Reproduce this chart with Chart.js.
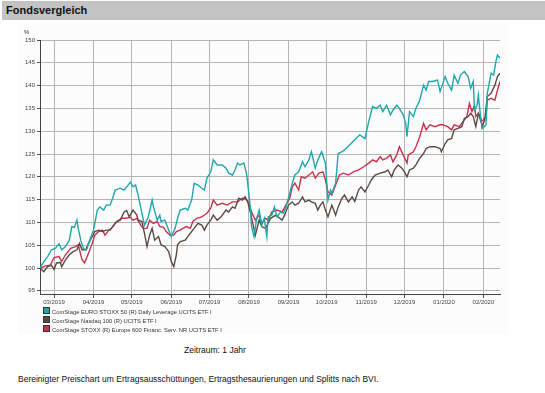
<!DOCTYPE html>
<html><head><meta charset="utf-8">
<script src="https://cdn.jsdelivr.net/npm/chart.js@4/dist/chart.umd.min.js"></script>
<style>
html,body{margin:0;padding:0;background:#fff;width:545px;height:393px;overflow:hidden;font-family:"Liberation Sans",Arial,sans-serif;}
#hdr{position:absolute;left:2px;top:1px;width:543px;height:19px;background:#c3c3c3;}
#hdr span{position:absolute;left:4px;top:3px;font-weight:bold;font-size:11px;color:#111;}
#box{position:absolute;left:18px;top:24px;width:490px;height:310px;background:#fcfcfc;}
#wrap{position:absolute;left:0;top:0;width:545px;height:310px;}
#pct{position:absolute;left:24px;top:29px;font-size:6px;color:#333;}
#legend{position:absolute;left:43px;top:307px;font-size:5.8px;color:#333;line-height:7.5px;}
#legend .sq{display:inline-block;width:5px;height:5px;margin-right:2px;vertical-align:-0.5px;border:0.5px solid #333;}
#zeit{position:absolute;left:0;width:430px;top:345px;text-align:center;font-size:8.5px;color:#111;}
#note{position:absolute;left:18px;top:374px;font-size:8.5px;color:#111;}
</style></head><body>
<div id="hdr"><span>Fondsvergleich</span></div>
<div id="box"></div>
<div id="wrap"><canvas id="c" width="545" height="310"></canvas></div>
<div id="pct">%</div>
<div id="legend"></div>
<div id="zeit">Zeitraum: 1 Jahr</div>
<div id="note">Bereinigter Preischart um Ertragsausschüttungen, Ertragsthesaurierungen und Splitts nach BVI.</div>
<script>
// Day offsets from 18.02.2019
const monthDays = [11,42,72,103,133,164,195,225,256,286,317,348];
const monthLabels = ["03/2019","04/2019","05/2019","06/2019","07/2019","08/2019","09/2019","10/2019","11/2019","12/2019","01/2020","02/2020"];
const yTicks = [95,100,105,110,115,120,125,130,135,140,145,150];
const seriesNames = [
  "ComStage EURO STOXX 50 (R) Daily Leverage UCITS ETF I",
  "ComStage Nasdaq 100 (R) UCITS ETF I",
  "ComStage STOXX (R) Europe 600 Financ. Serv. NR UCITS ETF I"
];
const seriesColors = ["#21a6aa","#5b4a43","#c8324d"];

const tealDays = [0,3,6,9,12,15,17,20,23,25,27,29,30,32,34,36,37,39,42,45,47,50,52,55,57,59,63,66,68,71,73,75,77,80,82,85,88,89,92,94,95,98,101,103,106,108,110,114,116,119,121,124,127,129,131,134,136,139,143,146,148,151,153,155,157,160,162,163,165,166,168,170,172,174,176,178,179,182,184,186,189,191,193,196,198,200,203,206,208,211,213,216,218,221,224,226,228,229,232,234,237,239,243,247,251,255,258,261,264,267,269,272,275,277,280,282,285,287,288,290,293,295,298,301,303,305,308,312,314,318,320,323,325,328,330,333,336,338,340,341,343,344,346,347,350,351,354,356,358,359,361];
const tealVals = [100.0,101.4,102.5,104.0,104.3,105.3,104.0,104.7,106.1,109.1,108.9,110.5,108.7,106.1,104.3,103.9,104.3,106.1,108.3,112.7,113.4,112.7,113.8,113.8,115.3,117.1,117.5,117.1,117.8,118.8,117.8,118.2,116.0,112.0,109.4,111.2,114.9,113.4,110.5,111.6,110.2,110.5,108.3,106.9,108.7,110.9,112.7,113.1,112.7,114.9,118.6,118.2,117.5,117.1,119.7,121.1,123.7,122.6,122.6,121.9,120.8,120.4,121.5,123.0,122.6,123.0,120.8,118.6,113.4,109.1,106.9,110.9,112.7,109.4,110.9,106.9,111.2,111.6,113.4,111.2,112.3,112.0,113.4,116.4,118.6,120.4,121.1,123.3,122.2,123.7,125.5,121.9,123.7,125.5,123.0,114.9,117.1,116.4,118.6,125.1,125.5,125.9,127.0,128.1,129.2,128.4,132.1,135.4,135.0,135.7,134.3,135.7,133.6,134.6,135.7,135.0,133.6,131.7,128.8,134.3,133.2,135.0,136.8,140.1,139.0,140.9,140.9,141.2,138.7,142.0,140.5,139.0,142.3,140.5,142.3,143.1,142.0,139.4,140.9,134.6,135.7,137.9,132.5,130.6,131.4,138.3,142.7,142.3,145.6,146.7,146.0];

const brownDays = [0,3,6,9,11,13,16,17,20,23,26,29,31,33,36,38,41,43,46,49,52,55,58,60,63,66,68,70,73,76,77,80,82,84,86,88,90,93,95,98,101,103,105,107,108,110,114,116,119,121,124,127,129,131,134,136,139,142,146,148,151,153,156,159,161,163,165,167,169,172,174,177,179,181,185,187,190,192,195,198,200,203,206,208,211,213,216,218,220,222,224,226,229,232,234,237,239,242,245,247,250,252,255,258,260,263,267,271,273,276,278,281,284,286,288,290,293,295,298,301,303,306,310,314,315,318,320,323,325,328,331,333,336,338,340,342,344,346,347,349,351,354,357,359,361];
const brownVals = [100.0,99.2,100.3,100.6,99.7,101.1,101.2,100.3,101.8,102.9,103.6,104.0,105.4,104.0,104.0,105.4,106.9,108.0,108.3,108.0,108.3,108.3,109.4,110.2,110.5,112.3,112.6,111.2,112.7,111.6,110.5,110.2,107.6,104.7,107.2,108.7,106.1,106.9,105.1,104.7,103.6,101.4,100.3,102.9,105.1,105.8,106.1,106.9,108.0,108.7,109.8,109.4,108.3,109.4,110.5,111.6,110.5,111.2,112.7,112.3,113.4,113.1,115.3,114.9,115.6,114.5,112.3,109.8,107.2,110.5,109.1,108.7,109.8,110.9,111.6,111.2,110.5,111.6,113.8,114.5,113.8,114.2,115.6,114.5,114.9,114.5,114.2,112.7,113.8,114.5,112.7,111.2,113.8,111.6,113.4,115.3,116.0,114.5,115.6,114.6,117.1,117.8,116.7,118.2,119.3,120.4,120.8,121.1,121.5,120.0,121.5,122.6,121.9,121.1,120.0,121.5,121.9,122.6,124.1,125.1,126.2,126.6,126.6,126.2,125.5,127.3,128.1,128.4,130.3,130.6,131.0,132.8,133.2,133.9,133.2,131.0,133.9,132.8,131.0,132.5,137.6,138.3,140.1,142.0,142.7];

const redDays = [0,4,8,11,15,17,20,24,28,30,33,35,38,41,43,46,49,51,54,56,59,62,64,67,71,73,76,79,81,84,86,89,92,94,97,99,102,105,107,110,112,115,118,120,123,127,131,134,136,139,143,147,151,155,159,161,164,166,169,172,174,177,179,182,186,190,193,196,198,200,203,205,208,211,214,216,219,222,224,226,229,232,235,238,242,246,250,254,258,261,264,267,269,272,275,277,280,282,285,288,289,293,295,298,301,303,306,310,314,316,320,323,325,329,332,335,337,339,341,342,344,346,348,350,351,354,357,359,361];
const redVals = [100.0,100.4,100.6,102.3,102.5,101.4,102.9,104.3,104.7,105.1,101.8,101.1,103.2,105.4,107.2,108.0,108.3,107.2,108.3,108.7,109.8,110.5,110.9,110.9,111.1,110.5,110.9,109.4,108.7,108.7,110.5,109.8,110.2,109.1,108.9,108.0,107.2,107.2,108.0,108.3,108.7,109.1,108.7,110.2,110.9,111.2,112.0,113.1,114.9,113.8,114.2,113.8,114.5,114.5,115.3,115.3,114.2,112.3,110.5,111.6,109.8,110.9,110.5,112.3,112.7,112.3,113.8,115.3,117.8,118.6,117.1,120.0,119.7,120.4,121.1,119.7,120.8,121.1,119.3,116.7,116.0,118.2,120.4,120.8,120.4,121.1,121.5,122.2,123.0,123.7,123.3,124.4,123.7,124.1,124.8,123.3,124.8,126.6,124.8,123.0,124.8,125.5,126.6,128.8,131.7,130.3,131.4,131.0,131.4,131.4,131.0,130.3,131.4,131.0,132.1,133.2,136.1,134.3,135.7,133.2,133.9,132.1,132.5,133.2,136.8,137.2,136.8,139.0,140.9];

function pts(d, v){ return d.map((x,i)=>({x:x, y:v[i]})); }
const allDays = [tealDays, brownDays, redDays];
const allVals = [tealVals, brownVals, redVals];

const datasets = seriesNames.map((n,i)=>({
  label:n, data:pts(allDays[i], allVals[i]), borderColor:seriesColors[i], backgroundColor:seriesColors[i],
  borderWidth:1.4, pointRadius:0, tension:0, fill:false
}));

const chart = new Chart(document.getElementById('c'), {
  type:'line',
  data:{datasets},
  options:{
    responsive:false, animation:false, devicePixelRatio:1,
    layout:{padding:{left:0, top:40, right:45, bottom:0}},
    plugins:{legend:{display:false}, tooltip:{enabled:false}},
    scales:{
      x:{type:'linear', min:0, max:361,
        afterBuildTicks:s=>{ s.ticks = monthDays.map(v=>({value:v})); },
        afterFit:s=>{ s.height = 16; },
        ticks:{autoSkip:false, maxRotation:0, padding:1, color:'#444', font:{size:6, family:'"Liberation Sans", Arial'},
          callback:(v)=>monthLabels[monthDays.indexOf(v)]},
        grid:{color:'#b4b4b4', lineWidth:1, tickLength:4, tickColor:'#555'},
        border:{color:'#444', width:1}
      },
      y:{type:'linear', min:94.3, max:150,
        afterBuildTicks:s=>{ s.ticks = yTicks.map(v=>({value:v})); },
        afterFit:s=>{ s.width = 40; },
        ticks:{padding:2, color:'#444', font:{size:6, family:'"Liberation Sans", Arial'}},
        grid:{color:'#b4b4b4', lineWidth:1, tickLength:3, tickColor:'#555'},
        border:{color:'#444', width:1}
      }
    }
  }
});

const lg = document.getElementById('legend');
chart.data.datasets.forEach(ds=>{
  const row = document.createElement('div');
  const sq = document.createElement('span'); sq.className='sq'; sq.style.background = ds.borderColor;
  row.appendChild(sq);
  row.appendChild(document.createTextNode(ds.label));
  lg.appendChild(row);
});
</script>
</body></html>
